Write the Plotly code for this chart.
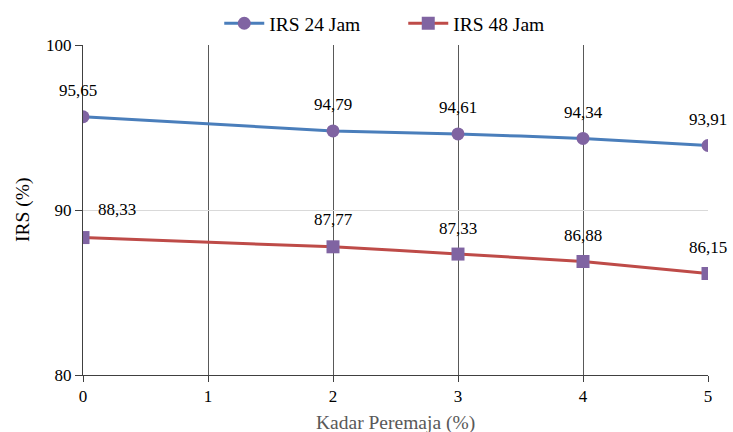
import plotly.graph_objects as go

kadar = [0, 2, 3, 4, 5]
irs24 = [95.65, 94.79, 94.61, 94.34, 93.91]
irs48 = [88.33, 87.77, 87.33, 86.88, 86.15]
series_names = ["IRS 24 Jam", "IRS 48 Jam"]
x_title = "Kadar Peremaja (%)"
y_title = "IRS (%)"

# label offsets in pixels (style only)
off24 = [(-5, 26), (0, 26), (0, 26), (0, 26), (0, 26)]
off48 = [(34, 28), (0, 27), (0, 26), (0, 26), (0, 26)]

FONT = "Liberation Serif"

fig = go.Figure()
fig.add_trace(go.Scatter(
    x=kadar, y=irs24, name=series_names[0], mode="lines+markers",
    line=dict(color="#4A7EBB", width=3, shape="spline", smoothing=0.3),
    marker=dict(symbol="circle", size=13, color="#8064A2"),
))
fig.add_trace(go.Scatter(
    x=kadar, y=irs48, name=series_names[1], mode="lines+markers",
    line=dict(color="#BE4B48", width=3, shape="spline", smoothing=0.3),
    marker=dict(symbol="square", size=13, color="#8064A2"),
))

def fmt(v):
    return f"{v:.2f}".replace(".", ",")

annotations = []
for xs, ys, offs in [(kadar, irs24, off24), (kadar, irs48, off48)]:
    for xv, yv, (dx, dy) in zip(xs, ys, offs):
        annotations.append(dict(
            x=xv, y=yv, xref="x", yref="y", text=fmt(yv), showarrow=False,
            xshift=dx, yshift=dy, font=dict(family=FONT, size=17, color="#000000"),
        ))

# axis titles
annotations.append(dict(
    x=0.5, y=0, xref="paper", yref="paper", text=x_title, showarrow=False,
    yshift=-48, yanchor="middle", xanchor="center",
    font=dict(family=FONT, size=19.5, color="#595959"),
))
annotations.append(dict(
    x=0, y=0.5, xref="paper", yref="paper", text=y_title, showarrow=False,
    xshift=-60, xanchor="center", yanchor="middle", textangle=-90,
    font=dict(family=FONT, size=19.5, color="#000000"),
))

fig.update_layout(
    width=733, height=432,
    margin=dict(l=83, r=25, t=45, b=57, autoexpand=False),
    paper_bgcolor="white", plot_bgcolor="white",
    font=dict(family=FONT, size=17, color="#000000"),
    showlegend=True,
    legend=dict(orientation="h", x=0.218, xanchor="left", y=1.065, yanchor="middle",
                font=dict(family=FONT, size=19.5, color="#000000"),
                itemwidth=40, entrywidth=129, entrywidthmode="pixels",
                tracegroupgap=0, bgcolor="rgba(0,0,0,0)"),
    annotations=annotations,
    xaxis=dict(
        range=[0, 5], tickmode="linear", dtick=1, tick0=0,
        showgrid=True, gridcolor="#595959", gridwidth=1,
        showline=True, linecolor="#404040", linewidth=1,
        ticks="outside", ticklen=6, tickcolor="#404040",
        zeroline=False, automargin=False,
        tickfont=dict(family=FONT, size=17, color="#000000"),
    ),
    yaxis=dict(
        range=[80, 100], tickmode="linear", dtick=10, tick0=80,
        showgrid=True, gridcolor="#D9D9D9", gridwidth=1,
        showline=True, linecolor="#404040", linewidth=1,
        ticks="outside", ticklen=7, tickcolor="#404040",
        zeroline=False, automargin=False,
        tickfont=dict(family=FONT, size=17, color="#000000"),
    ),
)

fig.write_html("out.html")
